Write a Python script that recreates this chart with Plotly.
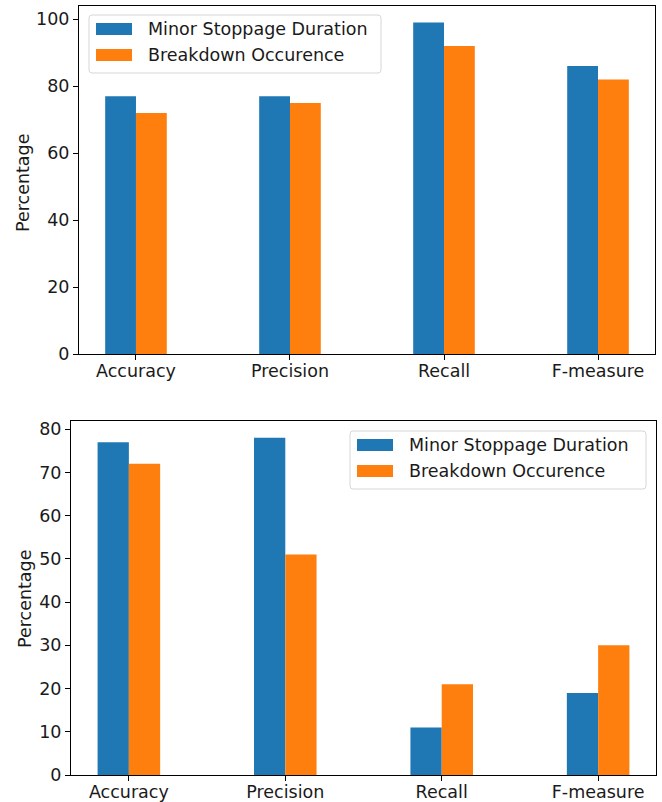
import plotly.graph_objects as go

categories = ["Accuracy", "Precision", "Recall", "F-measure"]
series_names = ["Minor Stoppage Duration", "Breakdown Occurence"]
top_msd = [77, 77, 99, 86]
top_bo = [72, 75, 92, 82]
bottom_msd = [77, 78, 11, 19]
bottom_bo = [72, 51, 21, 30]
top_ticks = [0, 20, 40, 60, 80, 100]
bottom_ticks = [0, 10, 20, 30, 40, 50, 60, 70, 80]

BLUE = "#1f77b4"
ORANGE = "#ff7f0e"
COLORS = [BLUE, ORANGE]
FONT = "DejaVu Sans"
TXT = "#1a1a1a"
FS = 17.5
W, H = 662, 802


def px(x):
    return x / W


def py(y):
    return 1 - y / H


fig = go.Figure()
for vals, name, color, xa, ya in [
    (top_msd, series_names[0], BLUE, "x", "y"),
    (top_bo, series_names[1], ORANGE, "x", "y"),
    (bottom_msd, series_names[0], BLUE, "x2", "y2"),
    (bottom_bo, series_names[1], ORANGE, "x2", "y2"),
]:
    fig.add_trace(go.Bar(x=categories, y=vals, name=name, marker_color=color,
                         marker_line_width=0, xaxis=xa, yaxis=ya, showlegend=False,
                         offsetgroup=name))

axis_common = dict(showline=True, linecolor="black", linewidth=1, mirror=True,
                   ticks="outside", ticklen=5, tickcolor="black", showgrid=False,
                   zeroline=False, automargin=False,
                   tickfont=dict(family=FONT, size=FS, color=TXT))

shapes = []
annotations = []


def add_legend(x0, y0, w, h):
    r = 3
    x1, y1 = x0 + w, y0 + h
    path = (f"M {px(x0 + r)},{py(y0)} L {px(x1 - r)},{py(y0)} Q {px(x1)},{py(y0)} {px(x1)},{py(y0 + r)} "
            f"L {px(x1)},{py(y1 - r)} Q {px(x1)},{py(y1)} {px(x1 - r)},{py(y1)} "
            f"L {px(x0 + r)},{py(y1)} Q {px(x0)},{py(y1)} {px(x0)},{py(y1 - r)} "
            f"L {px(x0)},{py(y0 + r)} Q {px(x0)},{py(y0)} {px(x0 + r)},{py(y0)} Z")
    shapes.append(dict(type="path", path=path, xref="paper", yref="paper",
                       line=dict(color="#d6d6d6", width=1), fillcolor="rgba(255,255,255,0.8)",
                       layer="above"))
    for i, (name, color) in enumerate(zip(series_names, COLORS)):
        top = y0 + 8 + i * 26
        shapes.append(dict(type="rect", xref="paper", yref="paper",
                           x0=px(x0 + 7), x1=px(x0 + 43), y0=py(top), y1=py(top + 12),
                           fillcolor=color, line=dict(width=0), layer="above"))
        annotations.append(dict(text=name, xref="paper", yref="paper", x=px(x0 + 57),
                                y=py(top + 6), xanchor="left", yanchor="middle",
                                showarrow=False, font=dict(family=FONT, size=FS, color=TXT)))


add_legend(89, 15, 292, 58)
add_legend(350, 431, 296, 58)

for cx, cy in [(23, 183), (25, 599)]:
    annotations.append(dict(text="Percentage", xref="paper", yref="paper", x=px(cx), y=py(cy),
                            xanchor="center", yanchor="middle", textangle=-90, showarrow=False,
                            font=dict(family=FONT, size=FS, color=TXT)))

fig.update_layout(
    width=W, height=H,
    margin=dict(l=0, r=0, t=0, b=0),
    paper_bgcolor="white", plot_bgcolor="white",
    barmode="group", bargap=0.6, bargroupgap=0,
    font=dict(family=FONT, size=FS, color=TXT),
    showlegend=False,
    xaxis=dict(domain=[px(79), px(655)], anchor="y", type="category",
               range=[-0.37, 3.37], ticklabelstandoff=-4, **axis_common),
    yaxis=dict(domain=[py(354), py(6)], anchor="x", range=[0, 103.95],
               tickvals=top_ticks, **axis_common),
    xaxis2=dict(domain=[px(71), px(656)], anchor="y2", type="category",
                range=[-0.37, 3.37], ticklabelstandoff=-4, **axis_common),
    yaxis2=dict(domain=[py(775), py(421)], anchor="x2", range=[0, 81.9],
                tickvals=bottom_ticks, **axis_common),
    shapes=shapes,
    annotations=annotations,
)

fig.write_html("out.html", config={"displayModeBar": False},
               post_script="document.body.style.margin='0';document.body.style.overflow='hidden';")
